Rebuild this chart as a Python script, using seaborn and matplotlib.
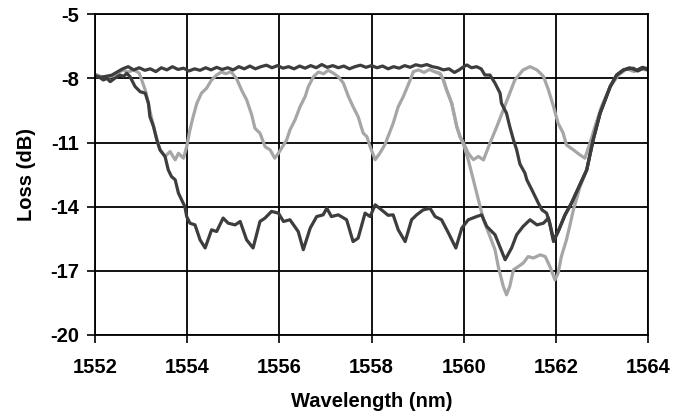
import matplotlib
matplotlib.use("Agg")
import matplotlib.pyplot as plt
import pandas as pd
import seaborn as sns

# broad notch (dark)
wl_dark_a = [1552.0, 1552.1, 1552.18, 1552.26, 1552.33, 1552.43, 1552.54, 1552.62, 1552.69, 1552.76,
             1552.87, 1552.98, 1553.09, 1553.16, 1553.19, 1553.27, 1553.34, 1553.41, 1553.52, 1553.59,
             1553.66, 1553.74, 1553.81, 1553.88, 1553.95, 1553.99, 1554.06, 1554.17, 1554.28, 1554.39,
             1554.53, 1554.64, 1554.78, 1554.89, 1555.04, 1555.15, 1555.29, 1555.43, 1555.58, 1555.69,
             1555.83, 1555.98, 1556.09, 1556.23, 1556.41, 1556.52, 1556.67, 1556.81, 1556.95, 1557.03,
             1557.13, 1557.28, 1557.46, 1557.6, 1557.71, 1557.86, 1557.97, 1558.08, 1558.22, 1558.36,
             1558.47, 1558.58, 1558.73, 1558.87, 1558.98, 1559.12, 1559.27, 1559.38, 1559.52, 1559.67,
             1559.83, 1559.96, 1560.1, 1560.28, 1560.39, 1560.5, 1560.68, 1560.9, 1561.04, 1561.15,
             1561.29, 1561.44, 1561.59, 1561.73, 1561.84, 1561.95, 1562.05, 1562.2, 1562.34, 1562.52,
             1562.67, 1562.81, 1562.96, 1563.18, 1563.32, 1563.47, 1563.58, 1563.68, 1563.78, 1563.9,
             1564.0]
loss_dark_a = [-7.85, -7.95, -8.07, -8.0, -8.15, -7.99, -7.84, -7.9, -7.76, -7.92,
               -8.38, -8.62, -8.69, -9.16, -9.78, -10.25, -10.87, -11.34, -11.65, -12.28,
               -12.59, -12.74, -13.36, -13.68, -13.99, -14.46, -14.77, -14.85, -15.55, -15.93,
               -15.08, -15.16, -14.53, -14.77, -14.85, -14.69, -15.55, -15.93, -14.69, -14.53,
               -14.22, -14.3, -14.69, -14.61, -15.16, -16.01, -15.0, -14.46, -14.38, -14.07,
               -14.46, -14.38, -14.61, -15.63, -15.47, -14.3, -14.46, -13.91, -14.15, -14.4,
               -14.38, -15.08, -15.63, -14.61, -14.38, -14.15, -14.07, -14.46, -14.61, -15.23,
               -15.93, -15.0, -14.61, -14.46, -14.38, -14.92, -15.31, -16.48, -15.93, -15.31,
               -14.92, -14.61, -14.85, -14.77, -14.53, -15.63, -15.16, -14.38, -13.83, -12.98,
               -12.28, -10.87, -9.63, -8.38, -7.84, -7.6, -7.55, -7.52, -7.65, -7.52,
               -7.6]

# narrow notch near 1562 nm (dark)
wl_dark_b = [1552.0, 1552.12, 1552.24, 1552.36, 1552.48, 1552.6, 1552.72, 1552.84, 1552.96, 1553.08,
             1553.2, 1553.32, 1553.44, 1553.56, 1553.68, 1553.8, 1553.92, 1554.04, 1554.16, 1554.28,
             1554.4, 1554.52, 1554.64, 1554.76, 1554.88, 1555.0, 1555.12, 1555.24, 1555.36, 1555.48,
             1555.6, 1555.72, 1555.84, 1555.96, 1556.08, 1556.2, 1556.32, 1556.44, 1556.56, 1556.68,
             1556.8, 1556.92, 1557.04, 1557.16, 1557.28, 1557.4, 1557.52, 1557.64, 1557.76, 1557.88,
             1558.0, 1558.12, 1558.24, 1558.36, 1558.48, 1558.6, 1558.72, 1558.84, 1558.96, 1559.08,
             1559.2, 1559.32, 1559.44, 1559.56, 1559.68, 1559.8, 1559.9, 1560.0, 1560.07, 1560.17,
             1560.28, 1560.38, 1560.46, 1560.57, 1560.68, 1560.79, 1560.82, 1560.93, 1561.0, 1561.08,
             1561.15, 1561.22, 1561.33, 1561.37, 1561.48, 1561.55, 1561.62, 1561.7, 1561.8, 1561.87,
             1561.95, 1562.05, 1562.2, 1562.34, 1562.52, 1562.67, 1562.81, 1562.96, 1563.18, 1563.32,
             1563.47, 1563.6, 1563.75, 1563.88, 1564.0]
loss_dark_b = [-7.9, -7.95, -7.9, -7.85, -7.7, -7.55, -7.45, -7.6, -7.5, -7.62,
               -7.55, -7.68, -7.5, -7.6, -7.45, -7.58, -7.52, -7.65, -7.55, -7.62,
               -7.5, -7.6, -7.48, -7.58, -7.5, -7.6, -7.45, -7.55, -7.42, -7.55,
               -7.45, -7.38, -7.5, -7.4, -7.52, -7.45, -7.55, -7.42, -7.52, -7.4,
               -7.5, -7.35, -7.48, -7.4, -7.5, -7.42, -7.55, -7.45, -7.38, -7.48,
               -7.4, -7.5, -7.42, -7.55, -7.45, -7.52, -7.4, -7.48, -7.36, -7.42,
               -7.35, -7.45, -7.5, -7.6, -7.55, -7.72, -7.6, -7.45, -7.37, -7.5,
               -7.45, -7.55, -7.84, -7.84, -8.22, -8.69, -9.16, -9.63, -10.25, -10.87,
               -11.34, -12.0, -12.43, -12.74, -13.21, -13.52, -13.83, -14.15, -14.3, -14.77,
               -15.55, -15.16, -14.38, -13.83, -12.98, -12.28, -10.87, -9.63, -8.38, -7.84,
               -7.6, -7.5, -7.62, -7.48, -7.55]

# periodic comb (light)
wl_light_a = [1552.0, 1552.12, 1552.24, 1552.36, 1552.48, 1552.6, 1552.72, 1552.84, 1552.96, 1553.1,
              1553.2, 1553.3, 1553.41, 1553.52, 1553.63, 1553.74, 1553.81, 1553.92, 1553.99, 1554.06,
              1554.13, 1554.21, 1554.31, 1554.42, 1554.53, 1554.64, 1554.74, 1554.84, 1554.95, 1555.07,
              1555.18, 1555.29, 1555.4, 1555.47, 1555.58, 1555.69, 1555.8, 1555.9, 1555.98, 1556.05,
              1556.16, 1556.23, 1556.34, 1556.45, 1556.56, 1556.63, 1556.74, 1556.85, 1556.96, 1557.06,
              1557.17, 1557.28, 1557.39, 1557.5, 1557.6, 1557.71, 1557.82, 1557.9, 1557.97, 1558.08,
              1558.18, 1558.29, 1558.4, 1558.47, 1558.58, 1558.69, 1558.84, 1558.91, 1559.02, 1559.14,
              1559.26, 1559.38, 1559.48, 1559.56, 1559.63, 1559.74, 1559.85, 1559.92, 1560.0, 1560.1,
              1560.21, 1560.32, 1560.43, 1560.57, 1560.72, 1560.86, 1561.0, 1561.11, 1561.29, 1561.44,
              1561.59, 1561.73, 1561.84, 1561.95, 1562.05, 1562.16, 1562.23, 1562.38, 1562.52, 1562.63,
              1562.74, 1562.85, 1562.99, 1563.18, 1563.36, 1563.54, 1563.7, 1563.85, 1564.0]
loss_light_a = [-7.8, -7.9, -7.95, -7.9, -7.75, -7.62, -7.7, -7.6, -7.75, -8.6,
                -9.6, -10.5, -11.34, -11.65, -11.42, -11.81, -11.5, -11.73, -11.19, -10.41,
                -9.79, -9.16, -8.69, -8.46, -8.07, -7.84, -7.7, -7.78, -7.68, -8.0,
                -8.54, -9.0, -9.7, -10.33, -10.56, -11.19, -11.34, -11.73, -11.5, -11.26,
                -10.87, -10.41, -9.94, -9.32, -8.85, -8.38, -7.92, -7.7, -7.78, -7.62,
                -7.75, -7.92, -8.22, -8.85, -9.32, -9.79, -10.56, -10.72, -11.19, -11.8,
                -11.5, -11.1, -10.49, -10.1, -9.32, -8.85, -8.07, -7.68, -7.6, -7.72,
                -7.58, -7.7, -7.75, -8.07, -8.54, -9.16, -10.25, -10.72, -11.03, -11.5,
                -11.8, -11.65, -11.81, -11.03, -10.25, -9.47, -8.69, -8.07, -7.6, -7.45,
                -7.6, -7.9, -8.54, -9.32, -10.1, -10.56, -11.11, -11.34, -11.57, -11.73,
                -11.03, -10.25, -9.32, -8.38, -7.84, -7.55, -7.68, -7.55, -7.62]

# deep notch near 1561 nm (light)
wl_light_b = [1559.4, 1559.5, 1559.56, 1559.63, 1559.74, 1559.85, 1559.92, 1560.0, 1560.1, 1560.21,
              1560.32, 1560.43, 1560.57, 1560.68, 1560.75, 1560.86, 1560.93, 1561.0, 1561.08, 1561.19,
              1561.29, 1561.4, 1561.51, 1561.66, 1561.77, 1561.87, 1561.98, 1562.05, 1562.12, 1562.23,
              1562.3, 1562.38, 1562.52, 1562.67, 1562.81, 1562.96, 1563.18, 1563.32, 1563.47]
loss_light_b = [-7.7, -7.8, -8.07, -8.54, -9.16, -10.25, -10.72, -11.1, -11.81, -12.74,
                -13.68, -14.61, -15.39, -16.01, -16.79, -17.73, -18.12, -17.73, -16.95, -16.79,
                -16.64, -16.33, -16.4, -16.25, -16.33, -16.79, -17.42, -17.1, -16.33, -15.55,
                -14.92, -14.15, -13.1, -12.28, -10.87, -9.63, -8.38, -7.84, -7.6]

x_ticks = [1552, 1554, 1556, 1558, 1560, 1562, 1564]
y_ticks = [-20, -17, -14, -11, -8, -5]

DARK = "#3d3d3d"
LIGHT = "#a6a6a6"

sns.set_theme(style="white")
plt.rcParams["font.family"] = ["Liberation Sans", "DejaVu Sans"]
plt.rcParams["font.weight"] = "bold"
plt.rcParams["axes.unicode_minus"] = False
plt.rcParams["text.color"] = "black"
plt.rcParams["axes.labelcolor"] = "black"
plt.rcParams["xtick.color"] = "black"
plt.rcParams["ytick.color"] = "black"

fig = plt.figure(figsize=(6.85, 4.16), dpi=100)
ax = fig.add_axes([95 / 685, 1 - 335 / 416, 553 / 685, 320.7 / 416])

series = [
    (wl_light_a, loss_light_a, LIGHT),
    (wl_light_b, loss_light_b, LIGHT),
    (wl_dark_b, loss_dark_b, DARK),
    (wl_dark_a, loss_dark_a, DARK),
]
for wl, loss, col in series:
    df = pd.DataFrame({"wl": wl, "loss": loss})
    sns.lineplot(data=df, x="wl", y="loss", ax=ax, color=col, lw=2.3,
                 estimator=None, sort=False)

ax.set_xlim(1552, 1564)
ax.set_ylim(-20, -5)
ax.set_xticks(x_ticks)
ax.set_yticks(y_ticks)
ax.grid(True, color="black", lw=1.3)
for sp in ax.spines.values():
    sp.set_color("black")
    sp.set_linewidth(1.3)
ax.tick_params(axis="both", direction="out", length=5.5, width=1.2, color="black",
               labelsize=14.5, bottom=True, left=True)
ax.tick_params(axis="x", pad=11)
ax.tick_params(axis="y", pad=6)
for lab in ax.get_xticklabels() + ax.get_yticklabels():
    lab.set_fontweight("bold")
ax.set_xlabel("Wavelength (nm)", fontsize=14.5, fontweight="bold", labelpad=11)
ax.set_ylabel("Loss (dB)", fontsize=14.5, fontweight="bold", labelpad=10)

fig.savefig("out.png", dpi=100)
